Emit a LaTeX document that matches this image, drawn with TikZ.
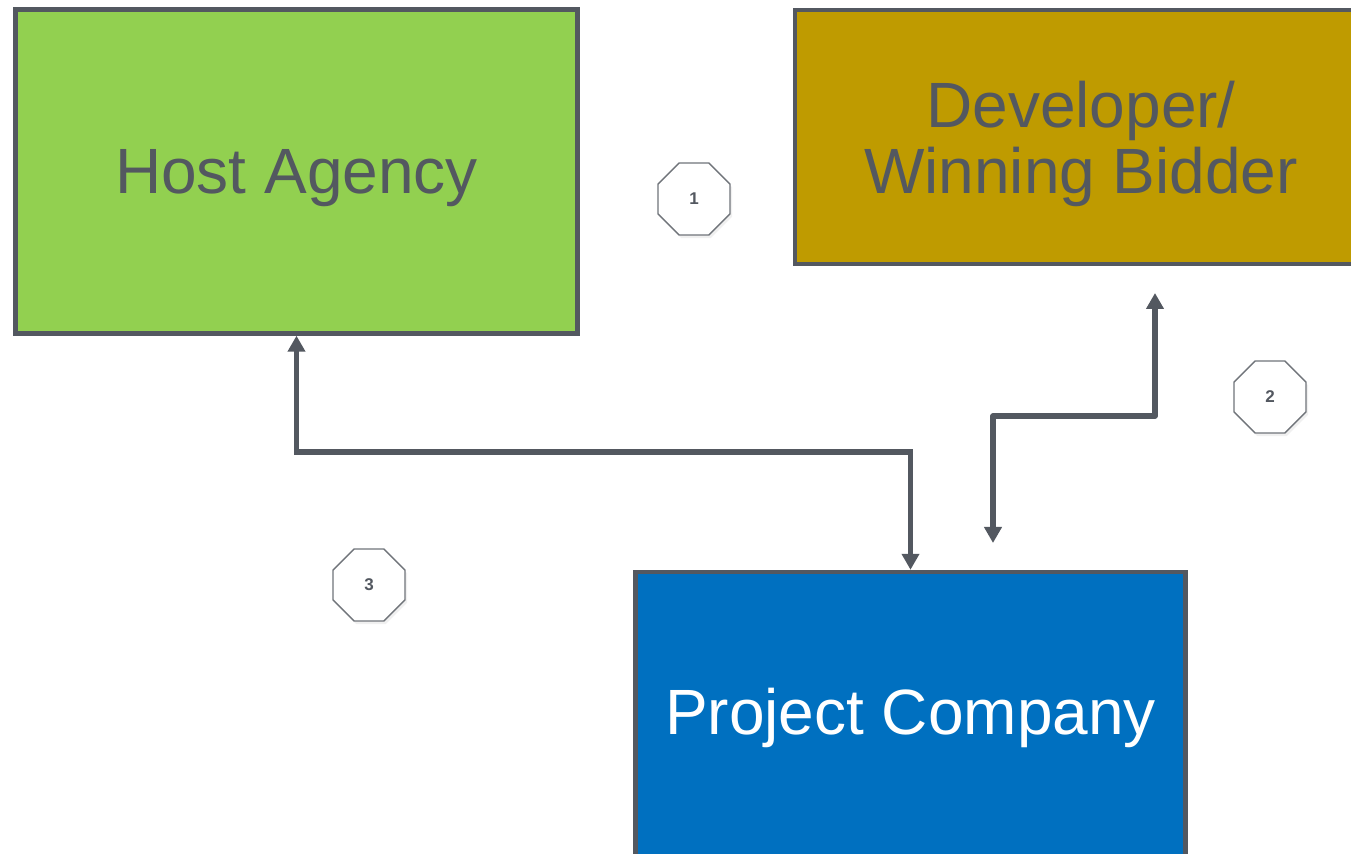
\documentclass[tikz,border=0pt]{standalone}
\usepackage{fontspec}
\setmainfont{Liberation Sans}
\usetikzlibrary{arrows.meta,shapes.geometric,shadows}

\definecolor{slate}{RGB}{83,88,96}
\definecolor{hostgreen}{RGB}{146,208,80}
\definecolor{devgold}{RGB}{191,155,0}
\definecolor{projblue}{RGB}{0,112,192}
\definecolor{octline}{RGB}{112,116,122}

\begin{document}
\begin{tikzpicture}[x=0.5pt,y=-0.5pt,>={Triangle[width=8.5pt,length=8pt]},
    party/.style={draw=slate,line width=2.2pt,rectangle,align=center,
      font=\fontsize{32}{33}\selectfont},
    octo/.style={draw=octline,line width=0.7pt,fill=white,regular polygon,regular polygon sides=8,
      minimum size=39pt,inner sep=0pt,font=\fontsize{8.5}{10}\selectfont\bfseries,text=slate,
      drop shadow={opacity=0.12,shadow xshift=1pt,shadow yshift=-1.5pt}},
    link/.style={draw=slate,line width=2.6pt,<->}]
    \useasboundingbox (0,0) rectangle (1351,854);
    \clip (0,0) rectangle (1351,854);

    \node[party,fill=hostgreen,text=slate,text depth=0pt,minimum width=281pt,minimum height=162pt] (host) at (296.5,171.5) {Host Agency};
    \node[party,fill=devgold,text=slate,text depth=0pt,minimum width=286pt,minimum height=127pt] (dev) at (1081,137) {Developer/\\Winning Bidder};
    \node[party,fill=projblue,text=white,text depth=10.5pt,minimum width=275pt,minimum height=150pt] (proj) at (910.5,722) {Project Company};

    \node[octo] (n1) at (694,199) {1};
    \node[octo] (n2) at (1270,397) {2};
    \node[octo] (n3) at (369,585) {3};

    % host agency <-> project company
    \coordinate (bendA) at (296.5,452);
    \draw[link] (host.south) -- (bendA) -| (proj.north);

    % developer <-> project company
    \coordinate (devEnd) at (1155,293);
    \coordinate (bendB) at (1155,416);
    \coordinate (projEnd) at (993,543);
    \draw[link,line join=round] (devEnd) -- (bendB) -| (projEnd);
  \end{tikzpicture}
\end{document}
